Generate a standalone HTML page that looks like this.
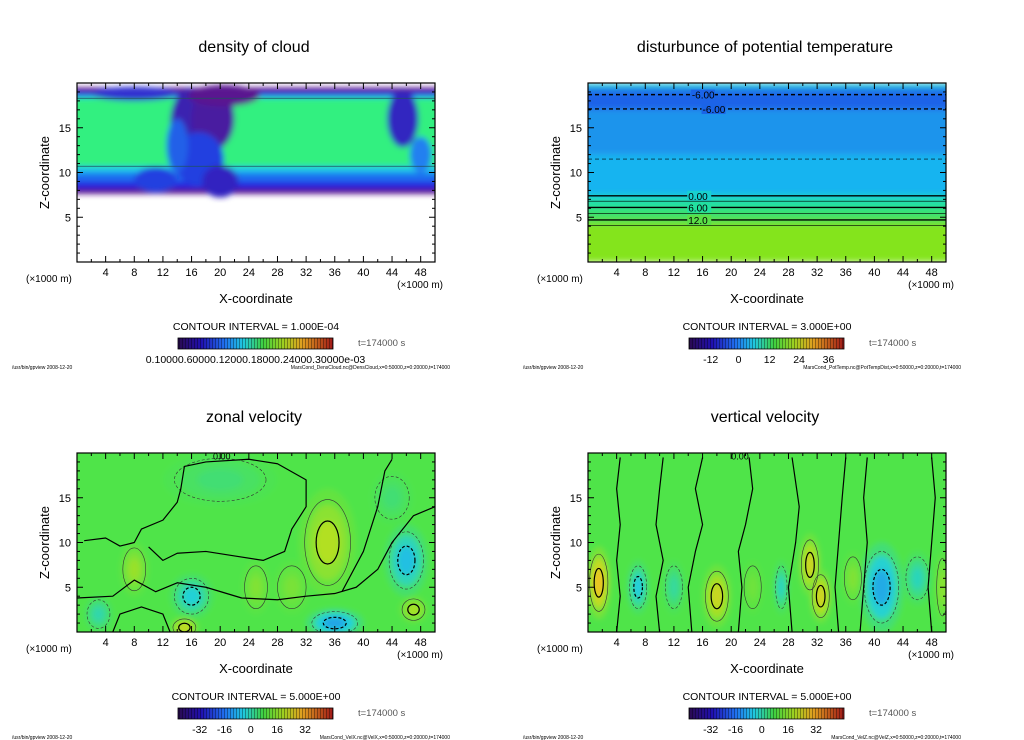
<!DOCTYPE html>
<html><head><meta charset="utf-8"><style>
html,body{margin:0;padding:0;background:#fff;}
svg{display:block;font-family:"Liberation Sans",sans-serif;}
</style></head><body>
<svg id="root" width="1024" height="740" xmlns="http://www.w3.org/2000/svg">
<defs>
<filter id="blur3" x="-5%" y="-5%" width="110%" height="110%"><feGaussianBlur stdDeviation="3"/></filter>
<linearGradient id="cbar" x1="0" x2="1" y1="0" y2="0">
<stop offset="0" stop-color="#2a0a50"/><stop offset="0.15" stop-color="#2010b0"/><stop offset="0.3" stop-color="#2070f0"/><stop offset="0.42" stop-color="#20c8e0"/><stop offset="0.55" stop-color="#40d040"/><stop offset="0.68" stop-color="#a0d020"/><stop offset="0.8" stop-color="#e0a020"/><stop offset="1" stop-color="#a01818"/>
</linearGradient>
<pattern id="stripes" width="3" height="10" patternUnits="userSpaceOnUse"><rect x="2" width="1" height="10" fill="rgba(0,0,0,0.35)"/></pattern>
</defs>
</svg>
<script>
// ---- shared axis data ----
const xTicks = [4,8,12,16,20,24,28,32,36,40,44,48];
const zTicks = [5,10,15];
const xDomain = [0,50];
const zDomain = [0,20];
// ---- panel data ----
const titles = ["density of cloud","disturbunce of potential temperature","zonal velocity","vertical velocity"];
const intervals = ["1.000E-04","3.000E+00","5.000E+00","5.000E+00"];
const cbarLabels = [["0.10000.60000.12000.18000.24000.30000e-03"],["-12","0","12","24","36"],["-32","-16","0","16","32"],["-32","-16","0","16","32"]];
const cbarLabelFrac = [[0.5],[0.14,0.32,0.52,0.71,0.9],[0.14,0.3,0.47,0.64,0.82],[0.14,0.3,0.47,0.64,0.82]];
const files = ["MarsCond_DensCloud.nc@DensCloud,x=0:50000,z=0:20000,t=174000","MarsCond_PotTemp.nc@PotTempDist,x=0:50000,z=0:20000,t=174000","MarsCond_VelX.nc@VelX,x=0:50000,z=0:20000,t=174000","MarsCond_VelZ.nc@VelZ,x=0:50000,z=0:20000,t=174000"];
// cloud density bands: [z0, z1, colour]
const cloudBands = [[7.6,19.5,"#5a1890"],[8.2,19.0,"#2828e0"],[9.0,18.7,"#1a70f0"],[10.0,18.5,"#20c8e8"],[10.7,18.3,"#30f080"]];
// cloud blobs: [x, z, rx, rz, colour]
const cloudBlobs = [[16,15.5,3,4,"#3a20b0"],[19,16,3,3.5,"#4a1aa0"],[17,11.5,3.5,3,"#2040e0"],[20,9,2.5,1.8,"#3020c0"],[20.5,18.6,5,1.2,"#5a1890"],[14,13,1.5,3,"#2060e8"],[45.5,16,2.2,3.2,"#3028c0"],[11,9.2,3,1.4,"#2040e0"],[8,18.8,6,0.8,"#3030d0"],[48,12,1.5,2,"#2080f0"]];
// potential temperature bands: [z0, z1, colour]
const ptBands = [[0,4.2,"#84e41e"],[4.2,5,"#5ae048"],[5,6,"#38e070"],[6,7,"#22e0a0"],[7,7.6,"#18d0d0"],[7.6,12,"#18b4f0"],[12,17,"#1a94ec"],[17,19,"#1a64e8"],[19,19.6,"#1a84e8"],[19.6,20,"#30d0d8"]];
// potential temperature contours: [z, style(0 thin,1 bold,2 dashed,3 bold dashed), label]
const ptLines = [[7.4,1,"0.00"],[6.8,0,""],[6.1,1,"6.00"],[5.4,0,""],[4.7,1,"12.0"],[4.1,0,""],[11.5,2,""],[17.1,3,"-6.00"],[18.7,3,"-6.00"]];
// velocity blobs: [x, z, rx, rz, value]
const uBlobs = [[35,10,4,6,12],[8,7,2,3,9],[46,8,3,4,-13],[16,4,3,2.5,-10],[36,1,4,1.6,-17],[47,2.5,2,1.5,11],[15,0.5,2,1.2,16],[3,2,2,2,-7],[25,5,2,3,6],[30,5,2.5,3,5],[20,17,8,3,-3],[44,15,3,3,-3]];
const wBlobs = [[1.5,5.5,1.6,4,26],[7,5,1.5,3,-11],[12,5,1.5,3,-6],[18,4,2,3.5,17],[27,5,1,3,-9],[31,7.5,1.5,3.5,18],[32.5,4,1.5,3,19],[41,5,3,5,-16],[46,6,2,3,-8],[49.5,5,1,4,8],[23,5,1.5,3,4],[37,6,1.5,3,6]];
// zero contours: lists of [x, z] points
const uZero = [
 [[1,10.2],[4,10.5],[6,9.6],[8,10],[9,11.5],[12,12.5],[14,14.5],[14.5,16],[15,18.5],[18,19],[24,19.3],[28,18.8],[32,17],[32,14],[30,11.5],[29,9],[26,8],[22,8.5],[18,9],[14,8.8],[12,8],[10,9.5]],
 [[0,3.8],[5,4],[8,5.8],[11,4.5],[14,5.5],[18,5],[23,3.8],[28,3.6],[32,4],[36,4.3],[39,5],[42,7],[44,10],[47,13],[50,14]],
 [[37,4.5],[40,9],[42,14],[43,18],[44,19.3]],
 [[5,0],[6,2],[9,2.8],[12,2],[13,0]]
];
const wZero = [
 [[4,0],[4.5,4],[4,8],[4.5,12],[4,16],[4.5,19.5]],
 [[10,0],[9.5,4],[10.5,8],[9.5,12],[10,16],[10.5,19.5]],
 [[14.5,0],[14,5],[15,9],[16,12],[15,16],[16,19.5]],
 [[21,0],[21.5,5],[21,9],[22,12],[23,16],[22.5,19.5]],
 [[28.5,0],[28,5],[29,10],[29.5,14],[28.5,19.5]],
 [[35,0],[34.5,5],[35,10],[35.5,15],[36,19.5]],
 [[38,0],[38.5,5],[39,10],[38.5,15],[39,19.5]],
 [[48,0],[47.5,5],[48,10],[48.5,15],[48,19.5]]
];

const NS = "http://www.w3.org/2000/svg";
const root = document.getElementById("root");
function mk(tag, attrs, parent){const e=document.createElementNS(NS,tag);for(const k in attrs)e.setAttribute(k,attrs[k]);(parent||root).appendChild(e);return e;}
function txt(s, attrs, parent){const e=mk("text",attrs,parent);e.textContent=s;return e;}

const panels=[{ox:77,oy:83},{ox:588,oy:83},{ox:77,oy:453},{ox:588,oy:453}];
const PW=358, PH=179;

function hex(c){return [parseInt(c.slice(1,3),16),parseInt(c.slice(3,5),16),parseInt(c.slice(5,7),16)];}
const vStops=[[0,"#3010a0"],[0.25,"#2060f0"],[0.4,"#20d0e0"],[0.5,"#50e448"],[0.62,"#b8e020"],[0.75,"#f0c020"],[1,"#d02020"]];
function vColor(v){let t=Math.max(0,Math.min(1,(v+40)/80));for(let i=1;i<vStops.length;i++){if(t<=vStops[i][0]){const a=vStops[i-1],b=vStops[i];const f=(t-a[0])/(b[0]-a[0]);const A=hex(a[1]),B=hex(b[1]);return "rgb("+A.map((x,j)=>Math.round(x+(B[j]-x)*f)).join(",")+")";}}return vStops[vStops.length-1][1];}

panels.forEach((p,i)=>{
  const X=v=>p.ox+(v-xDomain[0])/(xDomain[1]-xDomain[0])*PW;
  const Z=v=>p.oy+PH-(v-zDomain[0])/(zDomain[1]-zDomain[0])*PH;
  const cx=p.ox+PW/2;
  const g=mk("g",{});
  
  
  const t=txt(titles[i],{x:cx-2,y:p.oy-31,"font-size":16,"text-anchor":"middle",fill:"#000"},g);
  
  
  const clipId="clip"+i;
  const cp=mk("clipPath",{id:clipId},g);mk("rect",{x:p.ox,y:p.oy,width:PW,height:PH},cp);
  const field=mk("g",{"clip-path":"url(#"+clipId+")"},g);
  
  
  const fb=mk("g",{filter:"url(#blur3)"},field);
  if(i===0){
    cloudBands.forEach(b=>{const r=mk("rect",{x:X(0)-10,y:Z(b[1]),width:PW+20,height:Z(b[0])-Z(b[1]),fill:b[2]},fb);});
    cloudBlobs.forEach(b=>{const e=mk("ellipse",{cx:X(b[0]),cy:Z(b[1]),rx:X(b[2])-X(0),ry:Z(0)-Z(b[3]),fill:b[4]},fb);});
    [10.7,18.3].forEach(z=>mk("line",{x1:X(0),x2:X(50),y1:Z(z),y2:Z(z),stroke:"#205060","stroke-width":0.7},field));
  } else if(i===1){
    ptBands.forEach(b=>{const r=mk("rect",{x:X(0)-10,y:Z(b[1]),width:PW+20,height:Z(b[0])-Z(b[1]),fill:b[2]},fb);});
    ptLines.forEach(l=>{
      const y=Z(l[0]);const bold=l[1]===1||l[1]===3;
      const ln=mk("line",{x1:X(0),x2:X(50),y1:y,y2:y,stroke:"#000","stroke-width":bold?1.4:0.6,"stroke-dasharray":l[1]>=2?"4,3":"none"},field);
      
      if(l[2]){const lx=X(l[0]>15?(l[0]>18?14.5:16):14);mk("rect",{x:lx-1,y:y-5,width:24,height:10,fill:ptBands.find(b=>l[0]>=b[0]&&l[0]<b[1])[2]},field);const lab=txt(l[2],{x:lx,y:y+4,"font-size":10,fill:"#000"},field);}
    });
  } else {
    mk("rect",{x:p.ox-10,y:p.oy-10,width:PW+20,height:PH+20,fill:vColor(0)},fb);
    const blobs=i===2?uBlobs:wBlobs;
    blobs.forEach(b=>{
      [1,0.7,0.4].forEach(s=>{const e=mk("ellipse",{cx:X(b[0]),cy:Z(b[1]),rx:(X(b[2])-X(0))*s,ry:(Z(0)-Z(b[3]))*s,fill:vColor(b[4]*(1.15-s))},fb);});
      const neg=b[4]<0,strong=Math.abs(b[4])>=10;
      const c=mk("ellipse",{cx:X(b[0]),cy:Z(b[1]),rx:(X(b[2])-X(0))*0.8,ry:(Z(0)-Z(b[3]))*0.8,fill:"none",stroke:"#333","stroke-width":0.6,"stroke-dasharray":neg?"3,2":"none"},field);
      
      if(strong){const c2=mk("ellipse",{cx:X(b[0]),cy:Z(b[1]),rx:(X(b[2])-X(0))*0.4,ry:(Z(0)-Z(b[3]))*0.4,fill:"none",stroke:"#000","stroke-width":1.2,"stroke-dasharray":neg?"3,2":"none"},field);}
    });
    (i===2?uZero:wZero).forEach(line=>{
      const pl=mk("polyline",{points:line.map(q=>X(q[0])+","+Z(q[1])).join(" "),fill:"none",stroke:"#000","stroke-width":1.2,"stroke-linejoin":"round"},field);
      
    });
    const zl=txt("0.00",{x:X(i===2?19:20),y:Z(19.6)+3,"font-size":9,fill:"#000"},field);
    
  }
  // frame
  const fr=mk("rect",{x:p.ox,y:p.oy,width:PW,height:PH,fill:"none",stroke:"#000","stroke-width":1.2},g);
  
  for(let v=2;v<50;v+=2){const maj=v%4===0;[[Z(0),-1],[Z(20),1]].forEach(([y,d])=>mk("line",{x1:X(v),x2:X(v),y1:y,y2:y+d*(maj?6:3),stroke:"#000","stroke-width":1},g));}
  for(let v=1;v<20;v++){const maj=v%5===0;[[X(0),1],[X(50),-1]].forEach(([x,d])=>mk("line",{x1:x,x2:x+d*(maj?6:3),y1:Z(v),y2:Z(v),stroke:"#000","stroke-width":1},g));}
  xTicks.forEach(v=>{const t=txt(String(v),{x:X(v),y:p.oy+PH+14,"font-size":11,"text-anchor":"middle",fill:"#000"},g);});
  zTicks.forEach(v=>{const t=txt(String(v),{x:p.ox-6,y:Z(v)+4,"font-size":11,"text-anchor":"end",fill:"#000"},g);});
  const u1=txt("(×1000 m)",{x:p.ox-51,y:p.oy+PH+20,"font-size":10,fill:"#000"},g);
  const u2=txt("(×1000 m)",{x:p.ox+PW+8,y:p.oy+PH+26,"font-size":10,"text-anchor":"end",fill:"#000"},g);
  const xt=txt("X-coordinate",{x:cx,y:p.oy+PH+41,"font-size":13,"text-anchor":"middle",fill:"#000"},g);
  const zt=txt("Z-coordinate",{x:0,y:0,"font-size":13,"text-anchor":"middle",fill:"#000",transform:"translate("+(p.ox-28)+","+(p.oy+PH/2)+") rotate(-90)"},g);
  const ci=txt("CONTOUR INTERVAL = "+intervals[i],{x:cx,y:p.oy+247,"font-size":10.5,"text-anchor":"middle",fill:"#000"},g);
  const cb=mk("rect",{x:cx-78,y:p.oy+255,width:155,height:11,fill:"url(#cbar)",stroke:"#000","stroke-width":0.8},g);
  mk("rect",{x:cx-78,y:p.oy+255,width:155,height:11,fill:"url(#stripes)"},g);
  cbarLabels[i].forEach((s,k)=>{const t=txt(s,{x:cx-78+155*cbarLabelFrac[i][k],y:p.oy+280,"font-size":i===0?10.5:10.5,"text-anchor":"middle",fill:"#000"},g);});
  const tt=txt("t=174000 s",{x:cx+102,y:p.oy+263,"font-size":9.5,fill:"#555"},g);
  const f1=txt("/usr/bin/gpview   2008-12-20",{x:p.ox-65,y:p.oy+286,"font-size":5,fill:"#000"},g);
  const f2=txt(files[i],{x:p.ox+PW+15,y:p.oy+286,"font-size":5,"text-anchor":"end",fill:"#000"},g);
});
</script>
</body></html>
